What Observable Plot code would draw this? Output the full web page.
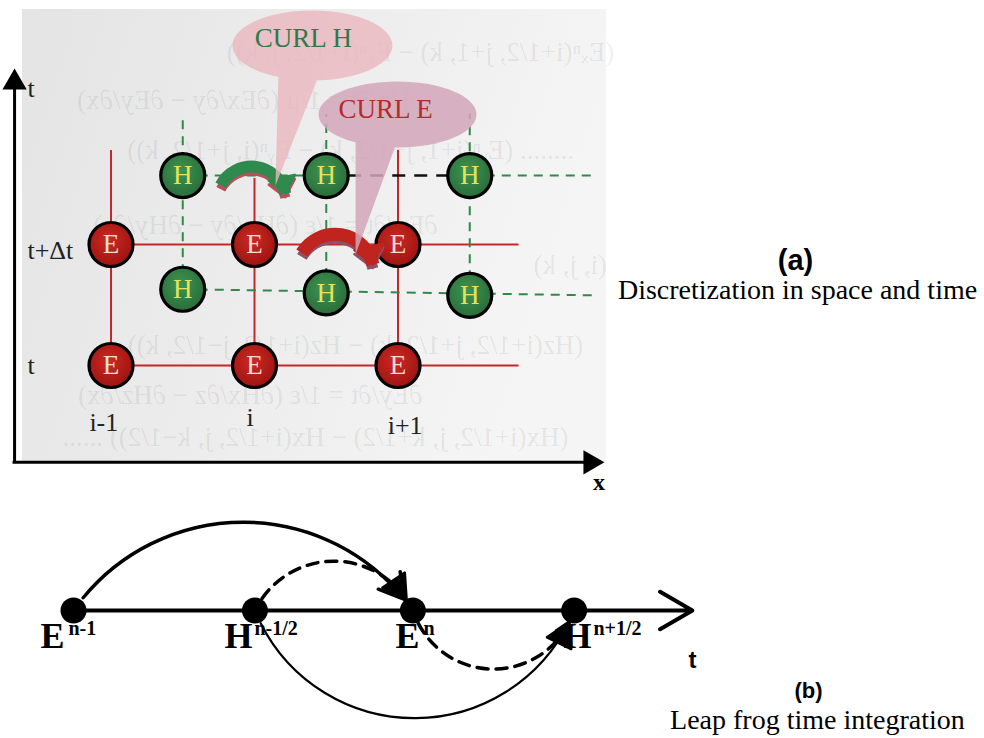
<!DOCTYPE html>
<html>
<head>
<meta charset="utf-8">
<script src="https://cdn.jsdelivr.net/npm/d3@7"></script>
<script src="https://cdn.jsdelivr.net/npm/@observablehq/plot@0.6"></script>
<style>
  html, body { margin: 0; padding: 0; background: #ffffff; }
  #fig { position: relative; width: 984px; height: 738px; overflow: hidden; }
  #fig > svg { position: absolute; left: 0; }
</style>
</head>
<body>
<svg width="0" height="0" style="position:absolute">
  <defs>
    <linearGradient id="paper" x1="0" y1="0" x2="1" y2="0.25">
      <stop offset="0" stop-color="#e4e4e4"/>
      <stop offset="0.6" stop-color="#eeeeee"/>
      <stop offset="1" stop-color="#f5f5f5"/>
    </linearGradient>
    <radialGradient id="eFill" cx="0.45" cy="0.4" r="0.65">
      <stop offset="0" stop-color="#cc2a22"/>
      <stop offset="1" stop-color="#9a1210"/>
    </radialGradient>
    <radialGradient id="hFill" cx="0.45" cy="0.4" r="0.65">
      <stop offset="0" stop-color="#3f9452"/>
      <stop offset="1" stop-color="#276a38"/>
    </radialGradient>
  </defs>
</svg>
<div id="fig"></div>
<script>
// ---- (a) staggered space–time grid: x in cells (i), y in time steps ----
const eCols = [-1, 0, 1];                 // columns i-1, i, i+1
const eLevels = [0, 1];                   // time levels t, t+Δt
const hCols = [-0.5, 0.5, 1.5];           // half-cell columns of H
const hUpperLevel = 1.57;
const hLowerLevels = [0.63, 0.60, 0.58];
const eColTops = [1.78, 1.55, 1.78];      // top ends of the red column lines
const eRowEnd = 1.84;                     // right end of the red row lines
const hColTop = 2.08;                     // top end of the green dashed columns
const hRowEnd = 2.37;                     // right end of the dashed H rows
const colLabels = ["i-1", "i", "i+1"];
const colLabelX = [-1.05, -0.03, 1.05];
const colLabelY = [-0.47, -0.43, -0.5];
const levelLabels = ["t", "t+Δt", "t"];
const levelLabelY = [0, 0.95, 2.29];
const curls = ["CURL H", "CURL E"];
const curlX = [0.404, 0.997];
const curlY = [2.645, 2.074];
const sheet = {x1: -1.617, x2: 2.453, y1: -0.8, y2: 2.942};
const axisOrigin = {x: -1.672, y: -0.8};
const axisEnd = {x: 2.355, y: 2.355};
// curl-update arrows: H(i-1/2) → H(i+1/2) and E(i) → E(i+1)
const curlHArrow = {x1: -0.235, y1: 1.49, x2: 0.215, y2: 1.42};
const curlEArrow = {x1: 0.33, y1: 0.93, x2: 0.825, y2: 0.835};
// update equations printed on the sheet (seen through from the back)
const backdropText = [
  "(Eₓⁿ(i+1/2, j+1, k) − Eₓⁿ(i+1/2, j, k))",
  "∂Hz/∂t = 1/μ (∂Ex/∂y − ∂Ey/∂x)",
  "........ (Eᵧⁿ(i+1, j+1/2, k) − Eᵧⁿ(i, j+1/2, k))",
  "∂Ex/∂t = 1/ε (∂Hz/∂y − ∂Hy/∂z)",
  "(i, j, k)",
  "(Hz(i+1/2, j+1/2, k) − Hz(i+1/2, j−1/2, k))",
  "∂Ey/∂t = 1/ε (∂Hx/∂z − ∂Hz/∂x)",
  "(Hx(i+1/2, j, k+1/2) − Hx(i+1/2, j, k−1/2)) ......"
];
const backdropX = [1.157, -0.03, 0.67, 0.077, 2.2, 0.704, -0.03, 0.425];
const backdropY = [2.587, 2.19, 1.777, 1.157, 0.826, 0.165, -0.248, -0.595];

// ---- (b) leap-frog time line ----
const steps = ["E", "H", "E", "H"];
const stepSup = ["n-1", "n-1/2", "n", "n+1/2"];
const stepT = [0, 0.54, 1.01, 1.49];
const stepLabelT = [-0.0625, 0.491, 0.994, 1.5];
const timeAxisEnd = 1.842;
const leaps = [
  {from: 0, to: 2},   // E(n-1) → E(n)
  {from: 1, to: 2},   // H(n-1/2) → E(n)
  {from: 2, to: 3},   // E(n) → H(n+1/2)
  {from: 1, to: 3}    // H(n-1/2) → H(n+1/2)
];

const serif = "'Liberation Serif', 'Times New Roman', serif";
const sans = "'Liberation Sans', Arial, sans-serif";

const eNodes = eLevels.flatMap(v => eCols.map(u => ({u, v})));
const hNodes = [
  ...hCols.map(u => ({u, v: hUpperLevel})),
  ...hCols.map((u, k) => ({u, v: hLowerLevels[k]}))
];
const redRows = eLevels.map(v => ({x1: eCols[0], x2: eRowEnd, y1: v, y2: v}));
const redCols = eCols.map((u, k) => ({x1: u, x2: u, y1: eLevels[0], y2: eColTops[k]}));
const greenCols = hCols.map((u, k) => ({x1: u, x2: u, y1: hLowerLevels[k], y2: hColTop}));
const greenRows = [
  {x1: hCols[0], x2: hCols[1], y1: hUpperLevel, y2: hUpperLevel},
  {x1: hCols[2], x2: hRowEnd, y1: hUpperLevel, y2: hUpperLevel},
  {x1: hCols[0], x2: hRowEnd, y1: hLowerLevels[0], y2: hLowerLevels[2]}
];
const blackRow = [{x1: hCols[1], x2: hCols[2], y1: hUpperLevel, y2: hUpperLevel}];
const backdrop = backdropText.map((text, k) => ({text, u: backdropX[k], v: backdropY[k]}));

// speech bubble symbol: ellipse plus a pointed tail (same winding, so they merge)
function bubble(rx, ry, tail) {
  const k = 0.5523;
  return {
    draw(ctx) {
      ctx.moveTo(rx, 0);
      ctx.bezierCurveTo(rx, k * ry, k * rx, ry, 0, ry);
      ctx.bezierCurveTo(-k * rx, ry, -rx, k * ry, -rx, 0);
      ctx.bezierCurveTo(-rx, -k * ry, -k * rx, -ry, 0, -ry);
      ctx.bezierCurveTo(k * rx, -ry, rx, -k * ry, rx, 0);
      ctx.closePath();
      ctx.moveTo(tail[0], tail[1]);
      ctx.lineTo(tail[2], tail[3]);
      ctx.lineTo(tail[4], tail[5]);
      ctx.closePath();
    }
  };
}
const bubbleH = bubble(80, 35, [-34, 27, 6, 31, -37, 140]);
const bubbleE = bubble(79, 33, [-42, 24, -2, 31, -42, 140]);

const curlData = curls.map((label, k) => ({label, u: curlX[k], v: curlY[k]}));

const gridPlot = Plot.plot({
  width: 984,
  height: 490,
  margin: 0,
  x: {domain: [-1, 1], range: [110.5, 397.5], axis: null},
  y: {domain: [0, 1], range: [365, 244], axis: null},
  style: {background: "transparent", overflow: "visible"},
  marks: [
    Plot.rect([sheet], {x1: "x1", x2: "x2", y1: "y1", y2: "y2", fill: "url(#paper)"}),
    Plot.text(backdrop, {x: "u", y: "v", text: "text", fill: "#010101", fillOpacity: 0.085, fontSize: 27, fontFamily: serif}),
    // axes
    Plot.link([{x1: axisOrigin.x, y1: axisOrigin.y, x2: axisOrigin.x, y2: axisEnd.y}],
      {x1: "x1", y1: "y1", x2: "x2", y2: "y2", stroke: "#000", strokeWidth: 3}),
    Plot.link([{x1: axisOrigin.x - 0.014, y1: axisOrigin.y, x2: axisEnd.x, y2: axisOrigin.y}],
      {x1: "x1", y1: "y1", x2: "x2", y2: "y2", stroke: "#000", strokeWidth: 3}),
    Plot.dot([{x: axisOrigin.x, y: axisEnd.y}], {x: "x", y: "y", symbol: "triangle", r: 9, fill: "#000", dy: 2}),
    Plot.dot([{x: axisEnd.x, y: axisOrigin.y}], {x: "x", y: "y", symbol: "triangle", r: 9, fill: "#000", rotate: 90, dx: -2}),
    // grid lines
    Plot.link(redRows, {x1: "x1", x2: "x2", y1: "y1", y2: "y2", stroke: "#c4262a", strokeWidth: 2}),
    Plot.link(redCols, {x1: "x1", x2: "x2", y1: "y1", y2: "y2", stroke: "#c4262a", strokeWidth: 2}),
    Plot.link(greenCols, {x1: "x1", x2: "x2", y1: "y1", y2: "y2", stroke: "#2f8a48", strokeWidth: 2, strokeDasharray: "9,7"}),
    Plot.link(greenRows, {x1: "x1", x2: "x2", y1: "y1", y2: "y2", stroke: "#2f8a48", strokeWidth: 2, strokeDasharray: "9,7"}),
    Plot.link(blackRow, {x1: "x1", x2: "x2", y1: "y1", y2: "y2", stroke: "#111", strokeWidth: 2.5, strokeDasharray: "13,9"}),
    // nodes
    Plot.dot(eNodes, {x: "u", y: "v", r: 22, fill: "url(#eFill)", stroke: "#000", strokeWidth: 3.2}),
    Plot.text(eNodes, {x: "u", y: "v", text: () => "E", fill: "#f7dcd6", fontSize: 27, fontFamily: serif}),
    Plot.dot(hNodes, {x: "u", y: "v", r: 22, fill: "url(#hFill)", stroke: "#000", strokeWidth: 3.2}),
    Plot.text(hNodes, {x: "u", y: "v", text: () => "H", fill: "#e6e25a", fontSize: 27, fontFamily: serif}),
    // curl arrows with their shadows
    Plot.arrow([curlHArrow], {x1: "x1", y1: "y1", x2: "x2", y2: "y2", bend: 70, stroke: "#b8505b", strokeWidth: 10, strokeLinecap: "butt", headLength: 10, headAngle: 80, dy: 4}),
    Plot.arrow([curlHArrow], {x1: "x1", y1: "y1", x2: "x2", y2: "y2", bend: 70, stroke: "#2f8a4d", strokeWidth: 12, strokeLinecap: "butt", headLength: 10, headAngle: 80}),
    Plot.arrow([curlEArrow], {x1: "x1", y1: "y1", x2: "x2", y2: "y2", bend: 68, stroke: "#8e4f69", strokeWidth: 11, strokeLinecap: "butt", headLength: 10, headAngle: 80, dy: 4}),
    Plot.arrow([curlEArrow], {x1: "x1", y1: "y1", x2: "x2", y2: "y2", bend: 68, stroke: "#c0241e", strokeWidth: 13, strokeLinecap: "butt", headLength: 10, headAngle: 80}),
    // speech bubbles
    Plot.dot(curlData.slice(0, 1), {x: "u", y: "v", symbol: bubbleH, r: 10, fill: "#eab7bd", fillOpacity: 0.8, stroke: "none"}),
    Plot.dot(curlData.slice(1), {x: "u", y: "v", symbol: bubbleE, r: 10, fill: "#d2a6b8", fillOpacity: 0.85, stroke: "none"}),
    Plot.text(curlData.slice(0, 1), {x: "u", y: "v", text: "label", dx: -9, dy: -7, fill: "#2d7a4a", fontSize: 27, fontFamily: serif}),
    Plot.text(curlData.slice(1), {x: "u", y: "v", text: "label", dx: -12, dy: -5, fill: "#b52a2a", fontSize: 27, fontFamily: serif}),
    // labels
    Plot.text(colLabels, {x: (d, k) => colLabelX[k], y: (d, k) => colLabelY[k], text: d => d, fontSize: 26, fontFamily: serif, fill: "#222"}),
    Plot.text(levelLabels, {x: axisOrigin.x + 0.09, y: (d, k) => levelLabelY[k], text: d => d, textAnchor: "start", fontSize: 26, fontFamily: serif, fill: "#222"}),
    Plot.text(["x"], {x: axisEnd.x + 0.045, y: axisOrigin.y - 0.167, text: d => d, fontSize: 24, fontWeight: "bold", fontFamily: serif, fill: "#000"}),
    Plot.text(["(a)"], {x: 3.77, y: 0.868, text: d => d, fontSize: 29, fontWeight: "bold", fontFamily: sans, fill: "#000"}),
    Plot.text(["Discretization in space and time"], {x: 3.784, y: 0.62, text: d => d, fontSize: 28, fontFamily: serif, fill: "#000"})
  ]
});

const stepData = steps.map((name, k) => ({name, sup: stepSup[k], t: stepT[k], lt: stepLabelT[k]}));
const leapData = leaps.map(d => ({x1: stepT[d.from], x2: stepT[d.to]}));

const timePlot = Plot.plot({
  width: 984,
  height: 248,
  margin: 0,
  x: {domain: [0, 1], range: [73, 409], axis: null},
  y: {domain: [0, 1], range: [120, 20], axis: null},
  style: {background: "transparent", overflow: "visible"},
  marks: [
    Plot.arrow([{x1: 0, x2: timeAxisEnd}], {x1: "x1", x2: "x2", y1: 0, y2: 0, stroke: "#000", strokeWidth: 4, headLength: 14}),
    Plot.arrow(leapData.slice(0, 1), {x1: "x1", x2: "x2", y1: 0, y2: 0, bend: 55, insetStart: 16, insetEnd: 14, stroke: "#000", strokeWidth: 3.5, headLength: 12}),
    Plot.arrow(leapData.slice(1, 2), {x1: "x1", x2: "x2", y1: 0, y2: 0, bend: 64, insetStart: 14, insetEnd: 12, stroke: "#000", strokeWidth: 3.5, strokeDasharray: "11,8", headLength: 12}),
    Plot.arrow(leapData.slice(2, 3), {x1: "x1", x2: "x2", y1: 0, y2: 0, bend: -72, insetStart: 14, insetEnd: 12, stroke: "#000", strokeWidth: 3.5, strokeDasharray: "11,8", headLength: 12}),
    Plot.arrow(leapData.slice(3, 4), {x1: "x1", x2: "x2", y1: 0, y2: 0, bend: -68, insetStart: 14, insetEnd: 12, stroke: "#000", strokeWidth: 2.2, headLength: 11}),
    Plot.dot(stepData, {x: "t", y: 0, r: 13, fill: "#000"}),
    Plot.text(stepData, {x: "lt", y: -0.26, text: "name", fontSize: 36, fontWeight: "bold", fontFamily: serif, fill: "#000"}),
    Plot.text(stepData, {x: "lt", y: -0.18, dx: 16, text: "sup", textAnchor: "start", fontSize: 20, fontWeight: "bold", fontFamily: serif, fill: "#000"}),
    Plot.text(["t"], {x: timeAxisEnd, y: -0.5, text: d => d, fontSize: 24, fontWeight: "bold", fontFamily: sans, fill: "#000"}),
    Plot.text(["(b)"], {x: 2.1875, y: -0.8, text: d => d, fontSize: 22, fontWeight: "bold", fontFamily: sans, fill: "#000"}),
    Plot.text(["Leap frog time integration"], {x: 2.214, y: -1.1, text: d => d, fontSize: 28, fontFamily: serif, fill: "#000"})
  ]
});

// the printed equations show through mirrored
gridPlot.querySelectorAll('g[fill="#010101"] text').forEach(t => {
  t.setAttribute("transform", (t.getAttribute("transform") || "") + " scale(-1,1)");
});

// turn arrowheads into solid filled triangles (ribbons and dashed leaps)
function solidHeads(svg, selector) {
  svg.querySelectorAll(selector).forEach(g => {
    const color = g.getAttribute("stroke");
    g.querySelectorAll("path").forEach(p => {
      const d = p.getAttribute("d");
      if (!d) return;
      const cut = d.lastIndexOf("M");
      if (cut <= 0) return;
      p.setAttribute("d", d.slice(0, cut));
      const head = document.createElementNS("http://www.w3.org/2000/svg", "path");
      head.setAttribute("d", d.slice(cut) + "Z");
      head.setAttribute("fill", color);
      head.setAttribute("stroke", color);
      head.setAttribute("stroke-width", 2);
      head.setAttribute("stroke-dasharray", "none");
      head.setAttribute("stroke-linejoin", "miter");
      if (p.getAttribute("transform")) head.setAttribute("transform", p.getAttribute("transform"));
      p.after(head);
    });
  });
}
solidHeads(gridPlot, 'g[stroke="#2f8a4d"], g[stroke="#b8505b"], g[stroke="#8e4f69"], g[stroke="#c0241e"]');
solidHeads(timePlot, 'g[stroke-dasharray="11,8"]');

const fig = document.getElementById("fig");
gridPlot.style.top = "0px";
timePlot.style.top = "490px";
fig.append(gridPlot, timePlot);
</script>
</body>
</html>
